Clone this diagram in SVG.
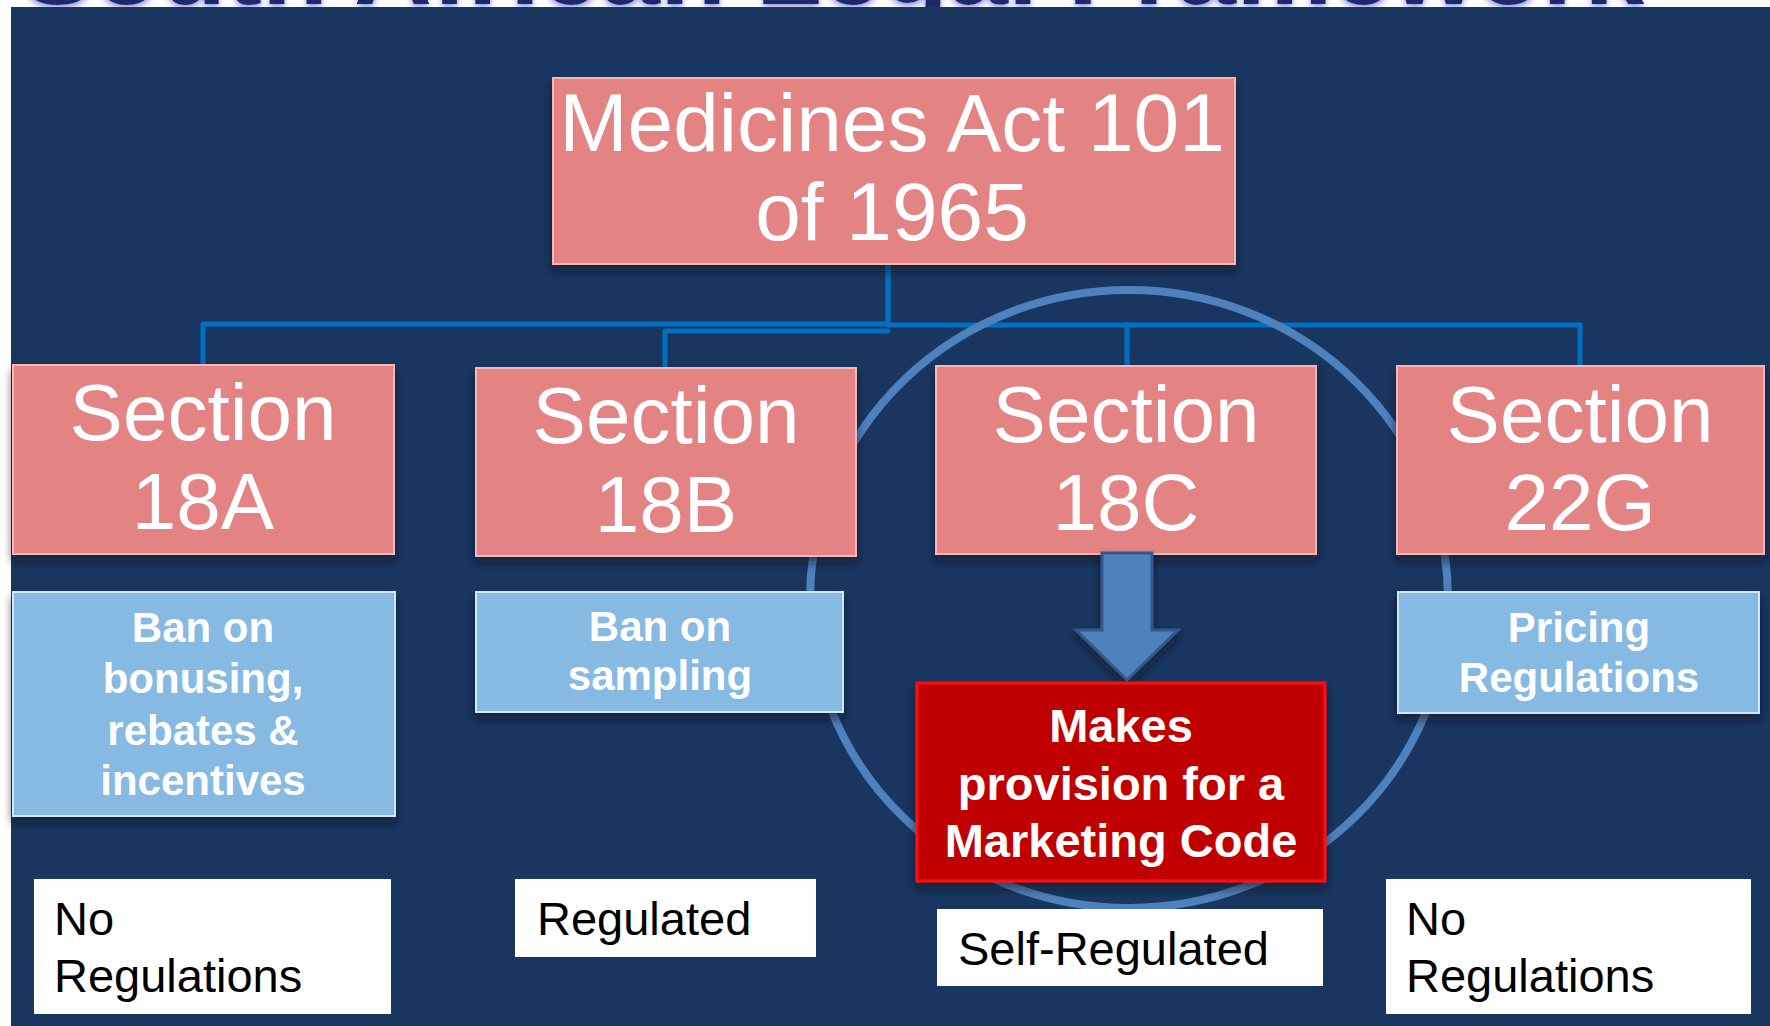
<svg xmlns="http://www.w3.org/2000/svg" width="1770" height="1026" viewBox="0 0 1770 1026">
  <defs>
    <style>
      .pink { fill: #E38383; stroke: #F6B7B7; stroke-width: 2; }
      .blue { fill: #86BAE2; stroke: #CDE9FB; stroke-width: 2; }
      .red { fill: #C00000; stroke: #FF1010; stroke-width: 3; }
      .label { fill: #FFFFFF; }
      .sec { font-family: "Liberation Sans", Arial, sans-serif; font-size: 80px; fill: #FFFFFF; text-anchor: middle; }
      .act { font-family: "Liberation Sans", Arial, sans-serif; font-size: 82px; fill: #FFFFFF; text-anchor: middle; }
      .desc { font-family: "Liberation Sans", Arial, sans-serif; font-size: 42px; font-weight: bold; fill: #FFFFFF; text-anchor: middle; }
      .code { font-family: "Liberation Sans", Arial, sans-serif; font-size: 47px; font-weight: bold; fill: #FFFFFF; text-anchor: middle; }
      .lbl { font-family: "Liberation Sans", Arial, sans-serif; font-size: 47px; fill: #000000; }
      .title { font-family: "Liberation Sans", Arial, sans-serif; font-size: 108px; font-weight: bold; fill: #1B2A6B; }
      .link { fill: none; stroke: #0070C0; stroke-width: 5; stroke-linejoin: round; stroke-linecap: round; }
      .ring { fill: none; stroke: #4F81BD; stroke-width: 8; }
    </style>
    <filter id="shadow" x="-10%" y="-10%" width="120%" height="135%">
      <feDropShadow dx="0" dy="6" stdDeviation="5" flood-color="#0E1220" flood-opacity="0.6"/>
    </filter>
    <filter id="glow" x="-5%" y="-30%" width="110%" height="160%">
      <feGaussianBlur in="SourceAlpha" stdDeviation="3" result="b"/>
      <feOffset dy="3" in="b" result="o"/>
      <feFlood flood-color="#8E8EE6"/>
      <feComposite in2="o" operator="in" result="g"/>
      <feMerge>
        <feMergeNode in="g"/>
        <feMergeNode in="SourceGraphic"/>
      </feMerge>
    </filter>
  </defs>

  <!-- page -->
  <rect x="0" y="0" width="1770" height="1026" fill="#FFFFFF"/>
  <text class="title" x="22" y="4" filter="url(#glow)">South African Legal Framework</text>
  <rect x="11" y="7" width="1759" height="1019" fill="#193660"/>

  <!-- connectors -->
  <g id="connectors">
    <path class="link" d="M888 264 V324 H203 V365"/>
    <path class="link" d="M888 331 H665 V368"/>
    <path class="link" d="M888 264 V325 H1580 V366"/>
    <path class="link" d="M1127 325 V366"/>
  </g>

  <!-- highlight ring round section 18C -->
  <ellipse id="highlight-ring" class="ring" cx="1129" cy="599" rx="319" ry="309"/>

  <g id="medicines-act">
    <rect class="pink" x="553" y="78" width="682" height="186" filter="url(#shadow)"/>
    <text class="act" x="892" y="151">Medicines Act 101</text>
    <text class="act" x="892" y="240">of 1965</text>
  </g>

  <g id="section-18a">
    <rect class="pink" x="13" y="365" width="381" height="189" filter="url(#shadow)"/>
    <text class="sec" x="203" y="440">Section</text>
    <text class="sec" x="203" y="529">18A</text>
  </g>

  <g id="section-18b">
    <rect class="pink" x="476" y="368" width="380" height="188" filter="url(#shadow)"/>
    <text class="sec" x="666" y="443">Section</text>
    <text class="sec" x="666" y="532">18B</text>
  </g>

  <g id="section-18c">
    <rect class="pink" x="936" y="366" width="380" height="188" filter="url(#shadow)"/>
    <text class="sec" x="1126" y="442">Section</text>
    <text class="sec" x="1126" y="530">18C</text>
  </g>

  <g id="section-22g">
    <rect class="pink" x="1397" y="366" width="367" height="188" filter="url(#shadow)"/>
    <text class="sec" x="1580" y="442">Section</text>
    <text class="sec" x="1580" y="530">22G</text>
  </g>

  <g id="ban-bonusing">
    <rect class="blue" x="13" y="592" width="382" height="224" filter="url(#shadow)"/>
    <text class="desc" x="203" y="642">Ban on</text>
    <text class="desc" x="203" y="693">bonusing,</text>
    <text class="desc" x="203" y="745">rebates &amp;</text>
    <text class="desc" x="203" y="795">incentives</text>
  </g>

  <g id="ban-sampling">
    <rect class="blue" x="476" y="592" width="367" height="120" filter="url(#shadow)"/>
    <text class="desc" x="660" y="641">Ban on</text>
    <text class="desc" x="660" y="690">sampling</text>
  </g>

  <g id="pricing-regulations">
    <rect class="blue" x="1398" y="592" width="361" height="121" filter="url(#shadow)"/>
    <text class="desc" x="1579" y="642">Pricing</text>
    <text class="desc" x="1579" y="692">Regulations</text>
  </g>

  <g id="provision-arrow">
    <polygon points="1102,553 1152,553 1152,630 1178,630 1127,680 1076,630 1102,630" fill="#4F81BD" stroke="#36598A" stroke-width="3" stroke-linejoin="miter" filter="url(#shadow)"/>
  </g>

  <g id="marketing-code">
    <rect class="red" x="917" y="683" width="408" height="198" filter="url(#shadow)"/>
    <text class="code" x="1121" y="742">Makes</text>
    <text class="code" x="1121" y="800">provision for a</text>
    <text class="code" x="1121" y="857">Marketing Code</text>
  </g>

  <g id="status-18a">
    <rect class="label" x="34" y="879" width="357" height="135"/>
    <text class="lbl" x="54" y="935">No</text>
    <text class="lbl" x="54" y="992">Regulations</text>
  </g>

  <g id="status-18b">
    <rect class="label" x="515" y="879" width="301" height="78"/>
    <text class="lbl" x="537" y="935">Regulated</text>
  </g>

  <g id="status-18c">
    <rect class="label" x="937" y="909" width="386" height="77"/>
    <text class="lbl" x="958" y="965">Self-Regulated</text>
  </g>

  <g id="status-22g">
    <rect class="label" x="1386" y="879" width="365" height="135"/>
    <text class="lbl" x="1406" y="935">No</text>
    <text class="lbl" x="1406" y="992">Regulations</text>
  </g>
</svg>
